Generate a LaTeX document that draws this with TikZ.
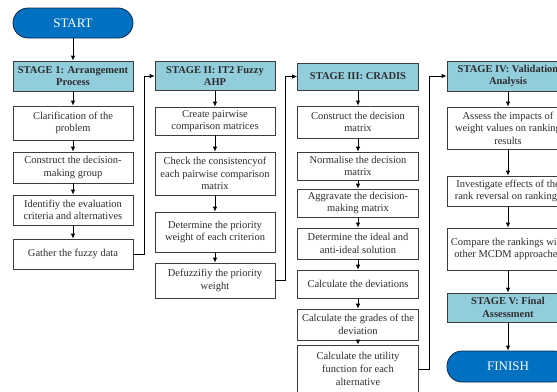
\documentclass[tikz,border=0pt]{standalone}
\usepackage{fontspec}
\setmainfont{Liberation Serif}
\usetikzlibrary{arrows.meta}
\definecolor{capblue}{RGB}{0,112,192}
\definecolor{capedge}{RGB}{20,40,70}
\definecolor{stagefill}{RGB}{146,205,220}
\definecolor{boxedge}{RGB}{60,60,60}
\definecolor{txt}{RGB}{45,45,45}
\tikzset{
  base/.style={draw=boxedge, line width=0.8pt, align=center, inner sep=1pt,
    font=\fontsize{10.5}{12.6}\selectfont, text=txt},
  procbox/.style={base, fill=white, minimum width=#1},
  procbox/.default=120pt,
  stagebox/.style={base, fill=stagefill, font=\fontsize{10.5}{12.6}\selectfont\bfseries, minimum width=120pt},
  capsule/.style={draw=capedge, line width=0.8pt, fill=capblue, rounded corners=15pt,
    minimum width=120pt, minimum height=30pt, text=white, font=\fontsize{13}{15}\selectfont},
  arr/.style={-{Latex[length=5pt,width=4.5pt]}, line width=0.8pt, black},
}
\begin{document}
\begin{tikzpicture}[x=1pt,y=-1pt]
\useasboundingbox (0,0) rectangle (557,391);
\clip (0,0) rectangle (557,391);
% column 1
\node[capsule] (start) at (73,23) {START};
\node[stagebox, minimum height=30pt] (s1) at (73,76) {STAGE 1: Arrangement\\Process};
\node[procbox, minimum height=34pt] (c1a) at (73,123) {Clarification of the\\problem};
\node[procbox, minimum height=31pt] (c1b) at (73,167.5) {Construct the decision-\\making group};
\node[procbox, minimum height=30pt] (c1c) at (73,210) {Identifiy the evaluation\\criteria and alternatives};
\node[procbox, minimum height=30pt] (c1d) at (73,254) {Gather the fuzzy data};
% column 2
\node[stagebox, minimum height=29pt] (s2) at (215,76) {STAGE II: IT2 Fuzzy\\AHP};
\node[procbox, minimum height=28pt] (c2a) at (215,121) {Create pairwise\\comparison matrices};
\node[procbox, minimum height=43pt] (c2b) at (215,173.5) {Check the consistencyof\\each pairwise comparison\\matrix};
\node[procbox, minimum height=40pt] (c2c) at (215,232) {Determine the priority\\weight of each criterion};
\node[procbox, minimum height=35pt] (c2d) at (215,280.5) {Defuzzifiy the priority\\weight};
% column 3
\node[stagebox, minimum width=121pt, minimum height=27pt] (s3) at (358,76.5) {STAGE III: CRADIS};
\node[procbox=121pt, minimum height=32pt] (c3a) at (358,122) {Construct the decision\\matrix};
\node[procbox=121pt, minimum height=28pt] (c3b) at (358,166) {Normalise the decision\\matrix};
\node[procbox=121pt, minimum height=28pt] (c3c) at (358,203) {Aggravate the decision-\\making matrix};
\node[procbox=121pt, minimum height=31pt] (c3d) at (358,243.5) {Determine the ideal and\\anti-ideal solution};
\node[procbox=121pt, minimum height=28pt] (c3e) at (358,284) {Calculate the deviations};
\node[procbox=121pt, minimum height=31pt] (c3f) at (358,324.5) {Calculate the grades of the\\deviation};
\node[procbox=121pt, minimum height=48pt] (c3g) at (358,369) {Calculate the utility\\function for each\\alternative};
% column 4
\node[stagebox, minimum width=122pt, minimum height=30pt] (s4) at (508,76) {STAGE IV: Validation\\Analysis};
\node[procbox=122pt, minimum height=42pt] (c4a) at (508,128) {Assess the impacts of\\weight values on ranking\\results};
\node[procbox=122pt, minimum height=30pt] (c4b) at (508,191) {Investigate effects of the\\rank reversal on rankings};
\node[procbox=122pt, minimum height=42pt] (c4c) at (508,249) {Compare the rankings with\\other MCDM approaches};
\node[stagebox, minimum width=122pt, minimum height=29pt] (s5) at (508,307.5) {STAGE V: Final\\Assessment};
\node[capsule, minimum width=122pt, minimum height=31pt] (finish) at (508,366.5) {FINISH};
% vertical arrows
\foreach \a/\b in {start/s1,s1/c1a,c1a/c1b,c1b/c1c,c1c/c1d,
  s2/c2a,c2a/c2b,c2b/c2c,c2c/c2d,
  s3/c3a,c3a/c3b,c3b/c3c,c3c/c3d,c3d/c3e,c3e/c3f,c3f/c3g,
  s4/c4a,c4a/c4b,c4b/c4c,c4c/s5,s5/finish}
  \draw[arr] (\a) -- (\b);
% elbow connectors
\draw[arr] (c1d.east) -- ++(11,0) |- (s2.west);
\draw[arr] (c2d.east) -- ++(10,0) |- (s3.west);
\draw[arr] (c3g.east) -- ++(10,0) |- (s4.west);
\end{tikzpicture}
\end{document}
